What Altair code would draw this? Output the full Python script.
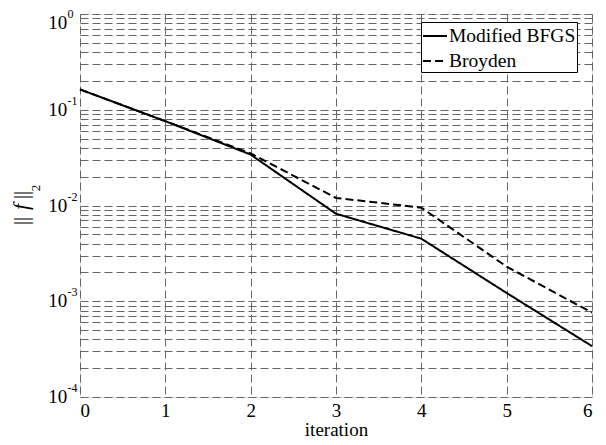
import altair as alt
import pandas as pd

iterations = [0, 1, 2, 3, 4, 5, 6]
bfgs = [0.163, 0.076, 0.034, 0.0082, 0.0045, 0.00122, 0.00034]
broyden = [0.163, 0.076, 0.035, 0.012, 0.0095, 0.0023, 0.00076]
series_names = ["Modified BFGS", "Broyden"]

label_values = [1.0, 0.1, 0.01, 0.001, 0.0001]
label_bases = ["10", "10", "10", "10", "10"]
label_exps = ["0", "-1", "-2", "-3", "-4"]

rows = []
for name, vals in zip(series_names, [bfgs, broyden]):
    for x, v in zip(iterations, vals):
        rows.append({"iteration": x, "value": v, "series": name})
df = pd.DataFrame(rows)

grid_vals = []
for k in [-4, -3, -2, -1]:
    for m in range(1, 10):
        grid_vals.append(round(m * 10.0 ** k, 8))
grid_vals.append(1.0)

lab_df = pd.DataFrame({"value": label_values, "base": label_bases, "exp": label_exps})
top_df = lab_df[lab_df["value"] >= 0.99]
rest_df = lab_df[lab_df["value"] < 0.99]

font = "Liberation Serif"
yscale = alt.Scale(type="log", domain=[1e-4, 1], nice=False)
yaxis = alt.Axis(values=grid_vals, labels=False, title=None,
                 grid=True, gridDash=[8, 4], gridColor="#666666",
                 ticks=False, domain=False)

lines = alt.Chart(df).mark_line(color="black", strokeWidth=2).encode(
    x=alt.X("iteration:Q", scale=alt.Scale(domain=[0, 6], nice=False),
            axis=alt.Axis(values=iterations, title="iteration", format="d",
                          grid=True, gridDash=[8, 4], gridColor="#666666",
                          ticks=False, domain=False,
                          labelFont=font, labelFontSize=19, labelColor="black",
                          labelPadding=4, titleFont=font, titleFontSize=19,
                          titleFontWeight="normal", titleColor="black",
                          titlePadding=0)),
    y=alt.Y("value:Q", scale=yscale, axis=yaxis),
    strokeDash=alt.StrokeDash("series:N",
                              scale=alt.Scale(domain=series_names, range=[[1, 0], [8, 4]]),
                              legend=alt.Legend(title=None, orient="none",
                                                legendX=341, legendY=8,
                                                symbolType="stroke", symbolStrokeWidth=2,
                                                symbolStrokeColor="black",
                                                symbolSize=576, labelOffset=1,
                                                labelFont=font, labelFontSize=19.5,
                                                labelColor="black", labelLimit=300,
                                                strokeColor="black", fillColor="white",
                                                padding=1, rowPadding=2, cornerRadius=0)),
)


def ylabels(data, dy_base, dy_exp):
    base = alt.Chart(data).mark_text(font=font, fontSize=19, align="right",
                                     baseline="middle", color="black", dy=dy_base).encode(
        x=alt.value(-12.7), y=alt.Y("value:Q", scale=yscale, axis=yaxis), text="base:N")
    exp = alt.Chart(data).mark_text(font=font, fontSize=12, align="left",
                                    baseline="middle", color="black", dy=dy_exp).encode(
        x=alt.value(-12.4), y=alt.Y("value:Q", scale=yscale, axis=yaxis), text="exp:N")
    return base + exp


title_parts = [
    ("||", 207, -52, 20, "normal", "center"),
    ("f", 193, -52, 22, "italic", "center"),
    ("||", 181, -52, 20, "normal", "center"),
    ("2", 174, -40, 13, "normal", "center"),
]
title_layers = []
for txt, yy, xx, fs, style, al in title_parts:
    title_layers.append(
        alt.Chart(pd.DataFrame({"t": [txt]})).mark_text(
            font=font, fontSize=fs, fontStyle=style, angle=270, align=al,
            baseline="alphabetic", color="black").encode(
            x=alt.value(xx), y=alt.value(yy), text="t:N"))

chart = alt.layer(
    lines, ylabels(rest_df, 0, -9), ylabels(top_df, 9, 0), *title_layers
).properties(
    width=512, height=383,
    autosize=alt.AutoSizeParams(type="none"),
    padding={"left": 72, "top": 6, "right": 6, "bottom": 44},
).configure_view(stroke="black", strokeWidth=1.5).configure(background="white")

chart.save("out.html", embed_options={"renderer": "svg", "actions": False})
